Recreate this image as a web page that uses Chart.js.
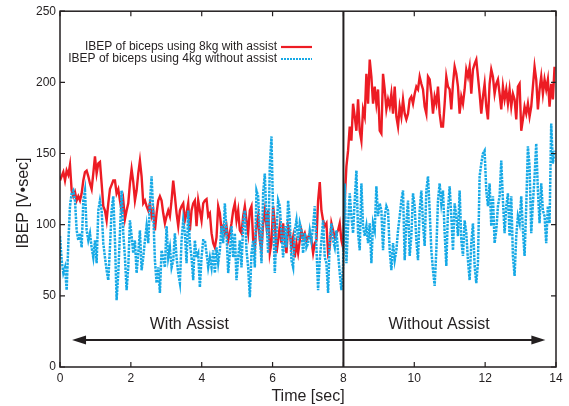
<!DOCTYPE html>
<html>
<head>
<meta charset="utf-8">
<script src="https://cdn.jsdelivr.net/npm/chart.js@4.4.0/dist/chart.umd.min.js"></script>
<style>
  html, body { margin: 0; padding: 0; background: #fff; }
  #wrap { width: 569px; height: 406px; }
</style>
</head>
<body>
<div id="wrap"><canvas id="myChart" width="569" height="406"></canvas></div>
<script>
// sampling interval of the recording (sec)
const sampleStep = 0.047;

const xTicks = [0, 2, 4, 6, 8, 10, 12, 14];
const yTicks = [0, 50, 100, 150, 200, 250];

const seriesNames = [
  "IBEP of biceps using 8kg with assist",
  "IBEP of biceps using 4kg without assist"
];

// IBEP [V*sec], red trace
const ibep8kgAssist = [
  131, 134, 137, 131, 138, 135, 142, 124, 120, 123, 117, 120, 117, 122, 131, 137, 138, 134, 129, 125,
  136, 148, 136, 143, 144, 129, 113, 110, 103, 115, 125, 128, 131, 131, 122, 125, 117, 110, 117, 104,
  110, 115, 129, 139, 130, 117, 124, 136, 145, 134, 115, 117, 113, 110, 115, 106, 110, 96, 108, 117,
  120, 117, 108, 101, 106, 110, 106, 117, 131, 120, 108, 99, 110, 113, 115, 103, 108, 115, 96, 110,
  115, 117, 99, 117, 110, 103, 115,
  117, 118, 106, 108, 94, 87, 84, 91, 113, 108, 96, 99, 94, 99, 89, 94, 101, 110, 115, 103,
  110, 96, 94, 106, 113, 103, 94, 110, 113, 89, 84, 99, 106, 89, 82, 101, 110, 99, 110, 80,
  87, 113, 101, 80, 89, 99, 87, 101, 89, 80, 99, 94, 84, 91, 77, 87, 80, 89, 96, 91,
  94, 89, 91, 94, 89, 80, 87, 89, 117, 130, 110, 103, 99, 101, 80, 84, 101, 96, 91, 94,
  96, 101, 89, 84,
  117, 141, 152, 169, 159, 185, 176, 166, 188, 166, 159, 181, 176, 206, 185, 216, 204, 185, 197, 185,
  195, 166, 164, 206, 195, 181, 188, 183, 192, 178, 197, 176, 169, 183, 176, 188, 178, 174, 178, 188,
  190, 185, 192, 197, 195, 204, 199, 195, 183, 178, 204, 202, 192, 178, 190, 185, 197, 178, 169, 169,
  185, 204, 197, 195,
  181, 199, 211, 206, 197, 178, 190, 185, 195, 209, 204, 211, 192, 209, 213, 216, 204, 192, 178, 190,
  199, 183, 174, 199, 209, 204, 192, 199, 202, 192, 181, 197, 188, 195, 185, 195, 183, 192, 188, 174,
  197, 199, 166, 174, 183, 178, 185, 176, 183, 197, 211, 202, 181, 195, 204, 192, 202, 195, 202, 183,
  199, 188, 211
];

// IBEP [V*sec], blue dotted trace
const ibep4kgNoAssist = [
  92, 75, 66, 70, 54, 87, 113, 122, 124, 117, 96, 89, 94, 84, 117, 124, 96, 89, 94, 84,
  77, 89, 73, 110, 117, 110, 87, 77, 68, 61, 84, 110, 120, 89, 47, 66, 94, 124, 94, 77,
  54, 70, 103, 92, 80, 89, 66, 80, 96, 68, 77, 89, 99, 87, 115, 134, 108, 75, 59, 70,
  52, 82, 77, 70, 99, 77, 84, 70, 75, 94, 77, 66, 59, 89, 103, 94, 73, 110, 87, 77,
  61, 89, 77, 80, 56, 77, 89,
  89, 80, 70, 77, 70, 82, 66, 84, 73, 82, 99, 87, 115, 94, 66, 80, 99, 77, 94, 61,
  77, 89, 70, 101, 110, 82, 70, 49, 80, 89, 70, 124, 120, 94, 73, 122, 136, 103, 80, 141,
  162, 106, 66, 94, 117, 113, 94, 77, 99, 84, 117, 103, 75, 70, 96, 103, 89, 101, 96, 80,
  94, 84, 87, 96, 89, 99, 113, 84, 54, 75, 89, 103, 77, 73, 52, 89, 101, 89, 84, 96,
  80, 66, 54, 70,
  129, 73, 99, 122, 106, 94, 117, 138, 94, 82, 129, 99, 92, 99, 87, 101, 73, 101, 96, 127,
  106, 115, 110, 82, 106, 113, 110, 82, 68, 87, 75, 82, 96, 106, 117, 124, 75, 101, 117, 78,
  92, 122, 113, 89, 75, 110, 124, 101, 85, 124, 134, 110, 82, 68, 57, 82, 117, 129, 115, 124,
  94, 71, 110, 127,
  106, 82, 115, 106, 92, 124, 89, 78, 103, 94, 75, 61, 87, 101, 71, 59, 73, 134, 143, 150,
  152, 124, 113, 129, 99, 120, 87, 96, 113, 120, 145, 117, 94, 113, 122, 92, 120, 78, 64, 92,
  106, 101, 120, 96, 78, 113, 155, 141, 94, 115, 134, 157, 124, 101, 129, 110, 106, 87, 113, 101,
  171, 143, 152
];

const phaseSplit = 8; // sec, assist switched off
const phaseLabels = ["With Assist", "Without Assist"];
const phaseLabelAt = [3.65, 10.7];

const fontFamily = "'Liberation Sans', Arial, Helvetica, sans-serif";
const ink = "#231f20";
const red = "#ed1c24";
const blue = "#16a9e6";

const toPoints = (values) => values.map((v, i) => ({ x: i * sampleStep, y: v }));

const decorations = {
  id: "decorations",
  afterDraw(chart) {
    const { ctx, chartArea: a } = chart;
    const xs = chart.scales.x;
    const ys = chart.scales.y;
    ctx.save();

    // box
    ctx.strokeStyle = ink;
    ctx.lineWidth = 1.5;
    ctx.strokeRect(a.left, a.top, a.right - a.left, a.bottom - a.top);

    // inward ticks on all four sides
    ctx.lineWidth = 1.2;
    ctx.beginPath();
    xTicks.forEach((t) => {
      const px = xs.getPixelForValue(t);
      ctx.moveTo(px, a.bottom);
      ctx.lineTo(px, a.bottom - 5);
      ctx.moveTo(px, a.top);
      ctx.lineTo(px, a.top + 5);
    });
    yTicks.forEach((v) => {
      const py = ys.getPixelForValue(v);
      ctx.moveTo(a.left, py);
      ctx.lineTo(a.left + 5, py);
      ctx.moveTo(a.right, py);
      ctx.lineTo(a.right - 5, py);
    });
    ctx.stroke();

    // divider between the two phases
    const xSplit = xs.getPixelForValue(phaseSplit);
    ctx.lineWidth = 2;
    ctx.beginPath();
    ctx.moveTo(xSplit, a.top);
    ctx.lineTo(xSplit, a.bottom);
    ctx.stroke();

    // double arrow
    const ay = ys.getPixelForValue(19);
    const ax1 = xs.getPixelForValue(0.34);
    const ax2 = xs.getPixelForValue(13.7);
    ctx.beginPath();
    ctx.moveTo(ax1 + 8, ay);
    ctx.lineTo(ax2 - 8, ay);
    ctx.stroke();
    ctx.fillStyle = ink;
    ctx.beginPath();
    ctx.moveTo(ax1, ay);
    ctx.lineTo(ax1 + 14, ay - 4.5);
    ctx.lineTo(ax1 + 14, ay + 4.5);
    ctx.closePath();
    ctx.moveTo(ax2, ay);
    ctx.lineTo(ax2 - 14, ay - 4.5);
    ctx.lineTo(ax2 - 14, ay + 4.5);
    ctx.closePath();
    ctx.fill();

    // phase labels
    ctx.font = `16px ${fontFamily}`;
    ctx.textAlign = "center";
    ctx.textBaseline = "middle";
    phaseLabels.forEach((label, i) => {
      ctx.fillText(label, xs.getPixelForValue(phaseLabelAt[i]), ys.getPixelForValue(30));
    });

    // legend
    ctx.font = `12px ${fontFamily}`;
    ctx.textAlign = "right";
    const legendRows = [
      { color: red, dash: [], y: 47 },
      { color: blue, dash: [2, 1], y: 59 }
    ];
    legendRows.forEach((row, i) => {
      ctx.fillStyle = ink;
      ctx.fillText(seriesNames[i], 277, row.y);
      ctx.strokeStyle = row.color;
      ctx.lineWidth = 2.2;
      ctx.setLineDash(row.dash);
      ctx.beginPath();
      ctx.moveTo(281, row.y);
      ctx.lineTo(312, row.y);
      ctx.stroke();
    });
    ctx.setLineDash([]);

    // axis titles
    ctx.fillStyle = ink;
    ctx.font = `16px ${fontFamily}`;
    ctx.textAlign = "center";
    ctx.textBaseline = "alphabetic";
    ctx.fillText("Time [sec]", (a.left + a.right) / 2, 401);
    ctx.translate(28, 203);
    ctx.rotate(-Math.PI / 2);
    ctx.fillText("IBEP [V\u2022sec]", 0, 0);

    ctx.restore();
  }
};

const myChartRef = document.getElementById("myChart").getContext("2d");

new Chart(myChartRef, {
  type: "line",
  data: {
    datasets: [
      {
        label: seriesNames[0],
        data: toPoints(ibep8kgAssist),
        borderColor: red,
        borderWidth: 2.4,
        pointRadius: 0,
        tension: 0,
        order: 2
      },
      {
        label: seriesNames[1],
        data: toPoints(ibep4kgNoAssist),
        borderColor: blue,
        borderWidth: 2.5,
        borderDash: [2.5, 1],
        pointRadius: 0,
        tension: 0,
        order: 1
      }
    ]
  },
  options: {
    responsive: false,
    animation: false,
    devicePixelRatio: 1,
    layout: { padding: { top: 11, right: 13, left: 0, bottom: 0 } },
    plugins: {
      legend: { display: false },
      tooltip: { enabled: false }
    },
    scales: {
      x: {
        type: "linear",
        min: 0,
        max: 14,
        grid: { display: false, drawTicks: false },
        border: { display: false },
        ticks: {
          stepSize: 2,
          padding: 4,
          color: ink,
          font: { family: fontFamily, size: 12 },
          maxRotation: 0
        },
        afterFit: (scale) => { scale.height = 39; }
      },
      y: {
        min: 0,
        max: 250,
        grid: { display: false, drawTicks: false },
        border: { display: false },
        ticks: {
          stepSize: 50,
          padding: 4,
          color: ink,
          font: { family: fontFamily, size: 12 }
        },
        afterFit: (scale) => { scale.width = 60; }
      }
    }
  },
  plugins: [decorations]
});
</script>
</body>
</html>
